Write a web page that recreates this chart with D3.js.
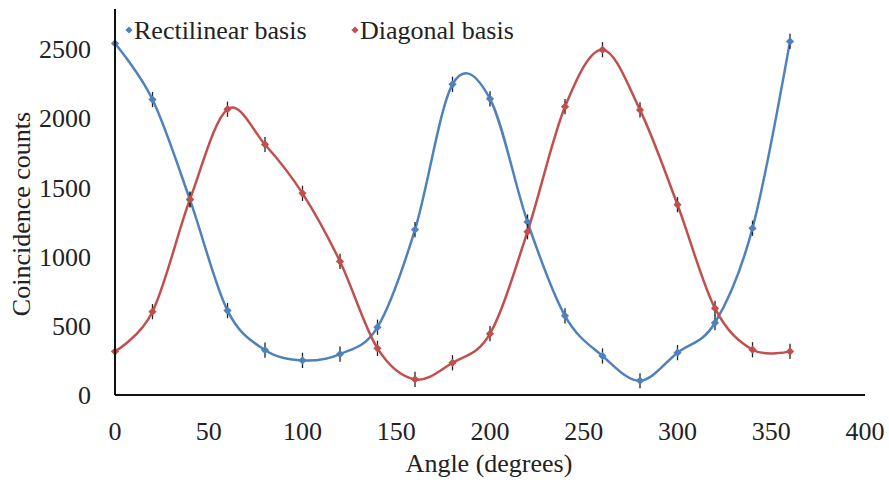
<!DOCTYPE html>
<html>
<head>
<meta charset="utf-8">
<script src="https://cdn.jsdelivr.net/npm/d3@7"></script>
<style>
  body { margin: 0; background: #fff; }
  text { font-family: "Liberation Serif", "Times New Roman", serif; fill: #222; }
</style>
</head>
<body>
<svg width="889" height="480"></svg>
<script>
// angles (degrees) and coincidence counts
const angles = [0, 20, 40, 60, 80, 100, 120, 140, 160, 180, 200, 220, 240, 260, 280, 300, 320, 340, 360];
const rectilinear = [2540, 2135, 1410, 610, 325, 250, 296, 490, 1195, 2245, 2140, 1250, 572, 282, 103, 306, 522, 1205, 2555];
const diagonal = [315, 602, 1415, 2065, 1810, 1457, 965, 337, 113, 233, 443, 1180, 2083, 2495, 2060, 1375, 626, 327, 315];
const errBar = 55; // half height of the small error bars, in counts
const xTicks = [0, 50, 100, 150, 200, 250, 300, 350, 400];
const yTicks = [0, 500, 1000, 1500, 2000, 2500];
const seriesNames = ["Rectilinear basis", "Diagonal basis"];
const seriesColors = ["#4F81BD", "#C0504D"];

let svg = d3.select("svg");

const x = d3.scaleLinear().domain([0, 400]).range([115, 865]);
const y = d3.scaleLinear().domain([0, 2500]).range([395, 49]);
const yTop = 9;

const series = [rectilinear, diagonal].map((vals, i) => ({
  name: seriesNames[i],
  color: seriesColors[i],
  points: angles.map((a, j) => ({ a: a, v: vals[j] }))
}));

const line = d3.line()
  .x(d => x(d.a))
  .y(d => y(d.v))
  .curve(d3.curveCardinal.tension(0));

// curves
svg.selectAll("path.series")
  .data(series)
  .enter().append("path")
    .attr("class", "series")
    .attr("d", d => line(d.points))
    .attr("fill", "none")
    .attr("stroke", d => d.color)
    .attr("stroke-width", 2.5);

// markers + error bars (square turned 45deg = diamond)
const diamond = d3.symbol().type(d3.symbolSquare).size(34);
series.forEach(s => {
  let g = svg.append("g");
  g.selectAll("line")
    .data(s.points)
    .enter().append("line")
      .attr("x1", d => x(d.a)).attr("x2", d => x(d.a))
      .attr("y1", d => y(d.v - errBar)).attr("y2", d => y(d.v + errBar))
      .attr("stroke", "#222")
      .attr("stroke-width", 1.3);
  g.selectAll("path")
    .data(s.points)
    .enter().append("path")
      .attr("d", diamond)
      .attr("transform", d => `translate(${x(d.a)},${y(d.v)}) rotate(45)`)
      .attr("fill", s.color);
});

// axes
svg.append("line")
  .attr("x1", x(0)).attr("x2", x(0))
  .attr("y1", yTop).attr("y2", y(0))
  .attr("stroke", "#111").attr("stroke-width", 2);
svg.append("line")
  .attr("x1", x(0)).attr("x2", x(400))
  .attr("y1", y(0)).attr("y2", y(0))
  .attr("stroke", "#111").attr("stroke-width", 2);

svg.selectAll("text.ytick")
  .data(yTicks)
  .enter().append("text")
    .attr("class", "ytick")
    .attr("x", 91)
    .attr("y", d => y(d))
    .attr("dy", "0.35em")
    .attr("text-anchor", "end")
    .attr("font-size", 26)
    .text(d => d);

svg.selectAll("text.xtick")
  .data(xTicks)
  .enter().append("text")
    .attr("class", "xtick")
    .attr("x", d => x(d))
    .attr("y", 440)
    .attr("text-anchor", "middle")
    .attr("font-size", 26)
    .text(d => d);

svg.append("text")
  .attr("x", 489)
  .attr("y", 472)
  .attr("text-anchor", "middle")
  .attr("font-size", 26)
  .text("Angle (degrees)");

svg.append("text")
  .attr("transform", "translate(30,214) rotate(-90)")
  .attr("text-anchor", "middle")
  .attr("font-size", 26)
  .text("Coincidence counts");

// legend
const legendX = [129, 355];
series.forEach((s, i) => {
  svg.append("path")
    .attr("d", d3.symbol().type(d3.symbolSquare).size(26))
    .attr("transform", `translate(${legendX[i]},30) rotate(45)`)
    .attr("fill", s.color);
  svg.append("text")
    .attr("x", legendX[i] + 5)
    .attr("y", 39)
    .attr("font-size", 26)
    .text(s.name);
});
</script>
</body>
</html>
